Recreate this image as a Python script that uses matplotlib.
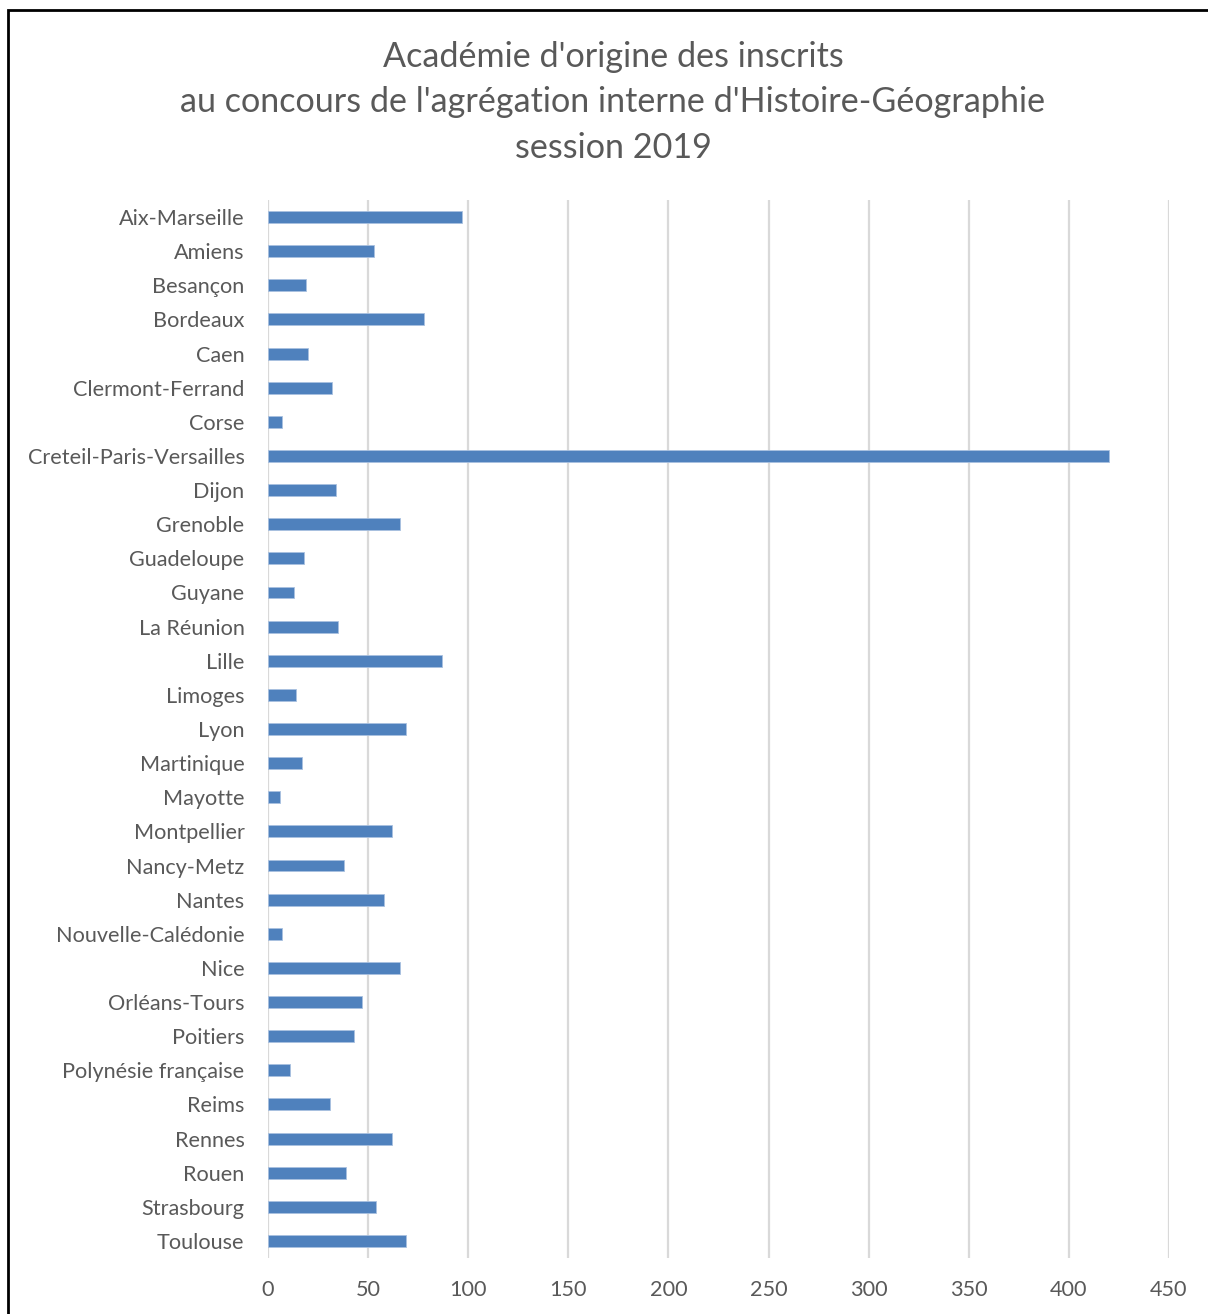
import matplotlib
matplotlib.use("Agg")
import matplotlib.pyplot as plt
from matplotlib.patches import Rectangle

academies = [
    "Aix-Marseille", "Amiens", "Besançon", "Bordeaux", "Caen", "Clermont-Ferrand",
    "Corse", "Creteil-Paris-Versailles", "Dijon", "Grenoble", "Guadeloupe", "Guyane",
    "La Réunion", "Lille", "Limoges", "Lyon", "Martinique", "Mayotte", "Montpellier",
    "Nancy-Metz", "Nantes", "Nouvelle-Calédonie", "Nice", "Orléans-Tours", "Poitiers",
    "Polynésie française", "Reims", "Rennes", "Rouen", "Strasbourg", "Toulouse",
]
inscrits = [
    97, 53, 19, 78, 20, 32,
    7, 420, 34, 66, 18, 13,
    35, 87, 14, 69, 17, 6, 62,
    38, 58, 7, 66, 47, 43,
    11, 31, 62, 39, 54, 69,
]
x_ticks = [0, 50, 100, 150, 200, 250, 300, 350, 400, 450]

title_lines = [
    "Académie d'origine des inscrits",
    "au concours de l'agrégation interne d'Histoire-Géographie",
    "session 2019",
]

plt.rcParams['font.family'] = ['Lato', 'DejaVu Sans']
text_color = "#595959"
grid_color = "#d9d9d9"
bar_color = "#4f81bd"

W, H = 1208, 1314
fig = plt.figure(figsize=(W / 100, H / 100), dpi=100)
fig.patch.set_facecolor("white")

# outer frame of the chart area
fig.patches.append(Rectangle((8 / W, -0.05), 1.1, (H - 10) / H + 0.05,
                             transform=fig.transFigure, fill=False,
                             edgecolor="black", linewidth=2.0))

ax = fig.add_axes([268 / W, (H - 1258) / H, (1169 - 268) / W, (1258 - 200) / H])
ypos = list(range(len(academies)))
ax.barh(ypos, inscrits, height=0.35, color=bar_color,
        edgecolor="#a9c1e0", linewidth=0.6, zorder=3)

ax.set_xlim(0, 450)
ax.set_ylim(len(academies) - 0.5, -0.5)
ax.set_xticks(x_ticks)
ax.set_yticks(ypos)
ax.set_yticklabels(academies)
ax.tick_params(axis="both", length=0, labelsize=15.6, colors=text_color)
ax.tick_params(axis="y", pad=17)
ax.tick_params(axis="x", pad=15.5)
ax.grid(axis="x", color=grid_color, linewidth=1.6, zorder=0)
for s in ax.spines.values():
    s.set_visible(False)

title_y = [57, 102, 148]
for line, yy in zip(title_lines, title_y):
    fig.text(613 / W, 1 - yy / H, line, ha="center", va="center",
             fontsize=24.6, color=text_color)

fig.savefig("out.png", dpi=100, facecolor="white")
